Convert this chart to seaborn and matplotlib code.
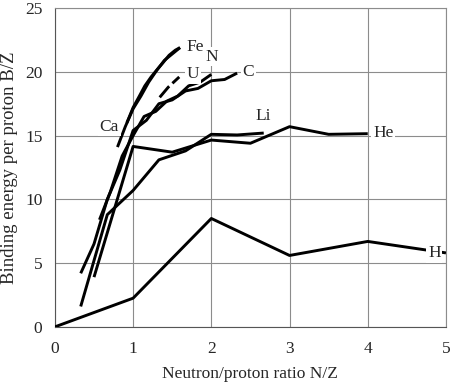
import numpy as np
import pandas as pd
import matplotlib
matplotlib.use("Agg")
import matplotlib.pyplot as plt
import seaborn as sns

# Binding energy per proton vs neutron/proton ratio
h_x = [0, 1, 2, 3, 4, 5]
h_y = [0, 2.25, 8.5, 5.6, 6.7, 5.8]

he_x = [0.5, 1, 1.5, 2, 2.5, 3, 3.5, 4]
he_y = [3.9, 14.15, 13.7, 14.65, 14.4, 15.7, 15.1, 15.15]

li_x = [0.33, 0.67, 1, 1.33, 1.67, 2, 2.33, 2.67]
li_y = [1.6, 8.8, 10.7, 13.1, 13.8, 15.1, 15.05, 15.2]

c_x = [0.33, 0.5, 0.67, 0.83, 1, 1.17, 1.33, 1.5, 1.67, 1.83, 2, 2.17, 2.33]
c_y = [4.2, 6.5, 10.0, 12.3, 15.4, 16.2, 17.5, 17.8, 18.5, 18.7, 19.3, 19.4, 19.9]

n_x = [0.57, 0.71, 0.86, 1, 1.14, 1.29, 1.43, 1.57, 1.71, 1.86, 2]
n_y = [8.4, 10.6, 13.4, 15.0, 16.5, 16.9, 17.7, 18.1, 18.9, 19.2, 19.8]

ca_x = [0.8, 0.9, 1, 1.1, 1.2, 1.3, 1.4, 1.5, 1.6]
ca_y = [14.1, 15.7, 17.1, 18.1, 19.2, 20.1, 20.9, 21.4, 21.9]

fe_x = [0.92, 1, 1.08, 1.15, 1.23, 1.31, 1.38, 1.46, 1.54, 1.6]
fe_y = [16.0, 17.2, 18.1, 18.9, 19.6, 20.2, 20.7, 21.3, 21.7, 21.9]

u_x = [1.34, 1.45, 1.59]
u_y = [18.0, 18.8, 19.6]

# label text and where it sits
labels = ["H", "He", "Li", "C", "N", "Ca", "Fe", "U"]
label_x = [4.77, 4.07, 2.57, 2.40, 1.92, 0.57, 1.68, 1.68]
label_y = [5.8, 15.2, 16.5, 20.0, 21.2, 15.7, 21.97, 19.8]

series = {
    "H": (h_x, h_y), "He": (he_x, he_y), "Li": (li_x, li_y),
    "C": (c_x, c_y), "N": (n_x, n_y), "Ca": (ca_x, ca_y),
    "Fe": (fe_x, fe_y), "U": (u_x, u_y),
}

sns.set_style("white")
plt.rcParams['font.family'] = ['Liberation Serif', 'DejaVu Serif']

fig = plt.figure(figsize=(4.5, 3.85), dpi=100)
ax = fig.add_axes([0.122, 0.151, 0.869, 0.828])

for name, (xs, ys) in series.items():
    df = pd.DataFrame({"x": xs, "y": ys})
    ls = (0, (5, 1.5)) if name == "U" else "-"
    sns.lineplot(data=df, x="x", y="y", ax=ax, color="black", lw=2.1,
                 sort=False, estimator=None, linestyle=ls,
                 solid_capstyle="butt", zorder=3)

for t, lx, ly in zip(labels, label_x, label_y):
    ax.text(lx, ly, t, fontsize=12.5, va="center", ha="left", zorder=5,
            bbox=dict(facecolor="white", edgecolor="none", pad=1.2))

ax.set_xlim(0, 5)
ax.set_ylim(0, 25)
ax.set_xticks(range(0, 6))
ax.set_yticks(range(0, 26, 5))
ax.grid(True, color="#8c8c8c", lw=0.8)
ax.set_axisbelow(True)
for s in ax.spines.values():
    s.set_color("#8c8c8c")
    s.set_linewidth(0.8)
ax.spines["left"].set_color("#555555")
ax.spines["bottom"].set_color("#555555")
ax.tick_params(direction="out", length=4, width=0.8, color="#555555",
               labelsize=12.5)
ax.tick_params(axis="x", pad=6)
ax.tick_params(axis="y", pad=5)
ax.set_xlabel("Neutron/proton ratio N/Z", fontsize=12.5, labelpad=7)
ax.set_ylabel("Binding energy per proton B/Z", fontsize=13.5, labelpad=5)

fig.savefig("out.png", dpi=100)
